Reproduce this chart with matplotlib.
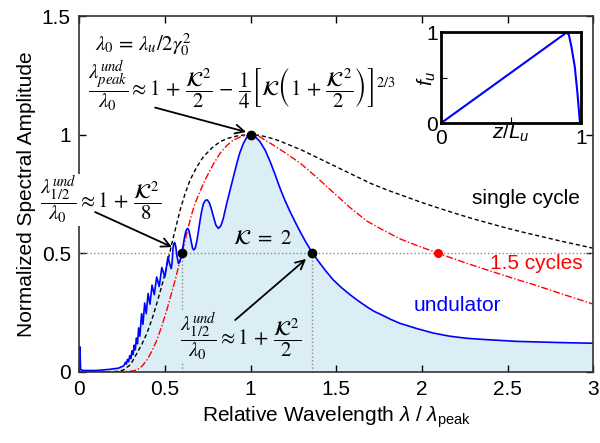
import matplotlib
matplotlib.use('Agg')
import matplotlib.pyplot as plt

plt.rcParams['font.family'] = ['Liberation Sans', 'DejaVu Sans']
plt.rcParams['mathtext.fontset'] = 'custom'
plt.rcParams['mathtext.rm'] = 'Liberation Sans'
plt.rcParams['mathtext.it'] = 'Liberation Sans:italic'
plt.rcParams['mathtext.bf'] = 'Liberation Sans:bold'

# undulator spectrum (K = 2)
und_x = [0.0, 0.004, 0.008, 0.02, 0.1, 0.18, 0.23, 0.26,
         0.270, 0.275, 0.282, 0.288, 0.295, 0.301, 0.308, 0.314, 0.321, 0.327,
         0.334, 0.340, 0.347, 0.354, 0.364, 0.372, 0.382, 0.391, 0.402, 0.413,
         0.425, 0.438, 0.452, 0.467, 0.482, 0.500, 0.518, 0.530, 0.537, 0.542,
         0.547, 0.552, 0.557, 0.563, 0.570, 0.579, 0.585, 0.592, 0.599, 0.607,
         0.615, 0.623, 0.632, 0.640, 0.648, 0.656, 0.662, 0.669, 0.677, 0.686,
         0.695, 0.705, 0.715, 0.725, 0.737, 0.748, 0.760, 0.772, 0.785, 0.798,
         0.812, 0.826, 0.840, 0.861, 0.885, 0.910, 0.935, 0.958, 0.980, 1.0,
         1.03, 1.055, 1.085, 1.114, 1.143, 1.172, 1.2, 1.23, 1.26, 1.289, 1.32,
         1.36, 1.4, 1.44, 1.483, 1.53, 1.58, 1.63, 1.678, 1.72, 1.77, 1.82,
         1.872, 1.97, 2.066, 2.16, 2.26, 2.36, 2.455, 2.55, 2.649, 2.8, 3.0]
und_y = [0.0, 0.105, 0.01, 0.005, 0.005, 0.01, 0.015, 0.025,
         0.040, 0.032, 0.052, 0.042, 0.068, 0.055, 0.088, 0.072, 0.112, 0.092,
         0.142, 0.118, 0.185, 0.150, 0.245, 0.200, 0.290, 0.245, 0.330, 0.285,
         0.365, 0.325, 0.400, 0.360, 0.440, 0.400, 0.485, 0.450, 0.435, 0.460,
         0.520, 0.540, 0.545, 0.530, 0.490, 0.457, 0.462, 0.478, 0.500, 0.535,
         0.570, 0.595, 0.605, 0.597, 0.570, 0.540, 0.520, 0.514, 0.522, 0.550,
         0.590, 0.638, 0.680, 0.710, 0.724, 0.725, 0.712, 0.685, 0.650, 0.618,
         0.605, 0.615, 0.645, 0.711, 0.780, 0.852, 0.920, 0.964, 0.992, 1.0,
         0.99, 0.971, 0.935, 0.887, 0.832, 0.774, 0.724, 0.676, 0.632, 0.591, 0.55,
         0.502, 0.462, 0.424, 0.387, 0.355, 0.325, 0.298, 0.274, 0.255, 0.238, 0.22,
         0.204, 0.182, 0.163, 0.150, 0.141, 0.136, 0.132, 0.128, 0.126, 0.123, 0.12]

# single-cycle spectrum
single_x = [0.0, 0.2, 0.23, 0.258, 0.3, 0.336, 0.365, 0.395, 0.425, 0.453, 0.478,
            0.501, 0.521, 0.541, 0.565, 0.589, 0.617, 0.647, 0.685, 0.725, 0.775,
            0.822, 0.87, 0.92, 0.96, 1.0, 1.05, 1.1, 1.15, 1.2, 1.25, 1.3, 1.4,
            1.5, 1.6, 1.7, 1.8, 1.9, 2.0, 2.1, 2.2, 2.3, 2.4, 2.5, 2.6, 2.7, 2.8,
            2.9, 3.0]
single_y = [0.0, 0.0, 0.002, 0.007, 0.03, 0.077, 0.115, 0.162, 0.222, 0.289, 0.352,
            0.415, 0.478, 0.542, 0.613, 0.683, 0.75, 0.809, 0.863, 0.908, 0.945,
            0.971, 0.986, 0.995, 0.999, 1.0, 0.998, 0.99, 0.979, 0.965, 0.95, 0.935,
            0.9, 0.865, 0.83, 0.795, 0.766, 0.74, 0.714, 0.69, 0.667, 0.645, 0.625,
            0.605, 0.587, 0.57, 0.553, 0.537, 0.521]

# 1.5-cycle spectrum
cyc15_x = [0.0, 0.25, 0.3, 0.336, 0.365, 0.395, 0.425, 0.453, 0.482, 0.511, 0.535,
           0.56, 0.58, 0.599, 0.618, 0.637, 0.656, 0.676, 0.71, 0.744, 0.783,
           0.822, 0.86, 0.9, 0.95, 1.0, 1.05, 1.114, 1.2, 1.29, 1.39, 1.485, 1.58,
           1.68, 1.78, 1.874, 1.98, 2.095, 2.18, 2.26, 2.36, 2.455, 2.55, 2.65,
           2.8, 3.0]
cyc15_y = [0.0, 0.0, 0.002, 0.007, 0.022, 0.049, 0.088, 0.133, 0.193, 0.26, 0.322,
           0.387, 0.445, 0.5, 0.556, 0.612, 0.664, 0.711, 0.77, 0.823, 0.877,
           0.922, 0.954, 0.978, 0.994, 1.0, 0.993, 0.965, 0.925, 0.88, 0.818, 0.755,
           0.693, 0.635, 0.595, 0.56, 0.53, 0.5, 0.478, 0.458, 0.434, 0.412, 0.39,
           0.368, 0.332, 0.285]

# marked points
dot_x = [1.0, 0.6, 1.36]
dot_y = [1.0, 0.5, 0.5]
red_dot_x = [2.095]
red_dot_y = [0.5]

# inset: undulator taper f_u(z/L_u)
fu_z = [0.0, 0.9, 0.915, 0.933, 0.957, 0.976, 0.993, 1.0]
fu_v = [0.0, 1.0, 0.97, 0.84, 0.62, 0.33, 0.02, 0.0]

xticks = [0, 0.5, 1, 1.5, 2, 2.5, 3]
xticklabels = ['0', '0.5', '1', '1.5', '2', '2.5', '3']
yticks = [0, 0.5, 1, 1.5]
yticklabels = ['0', '0.5', '1', '1.5']

fill_col = '#dbeef5'

fig = plt.figure(figsize=(6, 4.43), dpi=100)
ax = fig.add_axes([0.132, 0.161, 0.857, 0.802])

ax.fill_between(und_x, und_y, 0, color=fill_col, lw=0)
ax.axhline(0.5, color='#8a8a8a', ls=':', lw=1)
ax.plot([dot_x[1], dot_x[1]], [0, dot_y[1]], color='#8a8a8a', ls=':', lw=1)
ax.plot([dot_x[2], dot_x[2]], [0, dot_y[2]], color='#8a8a8a', ls=':', lw=1)

ax.plot(single_x, single_y, color='black', lw=1.0, dashes=(3, 2))
ax.plot(cyc15_x, cyc15_y, color='red', lw=1.0, dashes=(5, 1.5, 1, 1.5))
ax.plot(und_x, und_y, color='blue', lw=1.2)
ax.plot(dot_x, dot_y, 'o', color='black', ms=6, zorder=5)
ax.plot(red_dot_x, red_dot_y, 'o', color='red', ms=6.5, mec='none', zorder=5)

ax.set_xlim(0, 3)
ax.set_ylim(0, 1.5)
ax.set_xticks(xticks)
ax.set_xticklabels(xticklabels)
ax.set_yticks(yticks)
ax.set_yticklabels(yticklabels)
ax.tick_params(direction='in', top=True, right=True, labelsize=15, pad=6,
               length=5, width=1)
for s in ax.spines.values():
    s.set_linewidth(1.2)
    s.set_color('#333333')

ax.set_xlabel(r'Relative Wavelength $\lambda$ / $\lambda_{\mathrm{peak}}$', fontsize=15,
              labelpad=4)
ax.set_ylabel('Normalized Spectral Amplitude', fontsize=15, labelpad=4)

eq = dict(math_fontfamily='stix', fontsize=15, va='center', zorder=6)
ax.text(0.093, 1.38, r'$\lambda_0\, =\, \lambda_u/2\gamma_0^2$', **eq)
ax.text(0.052, 1.21, r'$\dfrac{\lambda_{peak}^{und}}{\lambda_0} \approx 1\, +\, '
        r'\dfrac{\mathcal{K}^2}{2}\, -\, \dfrac{1}{4}\left[\mathcal{K}\left(1\, +\, '
        r'\dfrac{\mathcal{K}^2}{2}\right)\right]^{2/3}$', **eq)
ax.text(-0.227, 0.725, r'$\dfrac{\lambda_{1/2}^{und}}{\lambda_0} \approx 1\, +\, '
        r'\dfrac{\mathcal{K}^2}{8}$',
        bbox=dict(facecolor='white', edgecolor='none', pad=0), **eq)
ax.text(0.589, 0.146, r'$\dfrac{\lambda_{1/2}^{und}}{\lambda_0} \approx 1\, +\, '
        r'\dfrac{\mathcal{K}^2}{2}$',
        bbox=dict(facecolor=fill_col, edgecolor='none', pad=0), **eq)
ax.text(0.898, 0.564, r'$\mathcal{K}\ =\ 2$', **eq)

arrow = dict(arrowstyle='->', color='black', lw=1.3, mutation_scale=16,
             shrinkA=0, shrinkB=0)
ax.annotate('', xy=(0.974, 1.012), xytext=(0.443, 1.115), arrowprops=arrow, zorder=7)
ax.annotate('', xy=(0.542, 0.526), xytext=(0.093, 0.674), arrowprops=arrow, zorder=7)
ax.annotate('', xy=(1.324, 0.476), xytext=(0.91, 0.218), arrowprops=arrow, zorder=7)

ax.text(2.92, 0.733, 'single cycle', fontsize=15, color='black', ha='right', va='center')
ax.text(2.94, 0.458, '1.5 cycles', fontsize=15, color='red', ha='right', va='center')
ax.text(2.204, 0.281, 'undulator', fontsize=15, color='blue', ha='center', va='center')

# inset
ins = fig.add_axes([0.735, 0.722, 0.233, 0.205])
ins.plot(fu_z, fu_v, color='blue', lw=1.5)
ins.set_xlim(0, 1)
ins.set_ylim(0, 1)
ins.set_xticks([0, 0.5, 1])
ins.set_xticklabels(['0', '', '1'])
ins.set_yticks([0, 0.5, 1])
ins.set_yticklabels(['0', '', '1'])
ins.tick_params(direction='in', labelsize=15, pad=2, length=4)
ins.tick_params(axis='x', pad=4)
for s in ins.spines.values():
    s.set_linewidth(2)
ins.set_xlabel(r'$z/L_u$', fontsize=15, labelpad=-19)
ins.set_ylabel(r'$f_u$', fontsize=15, labelpad=-8)

fig.savefig('out.png', dpi=100)
